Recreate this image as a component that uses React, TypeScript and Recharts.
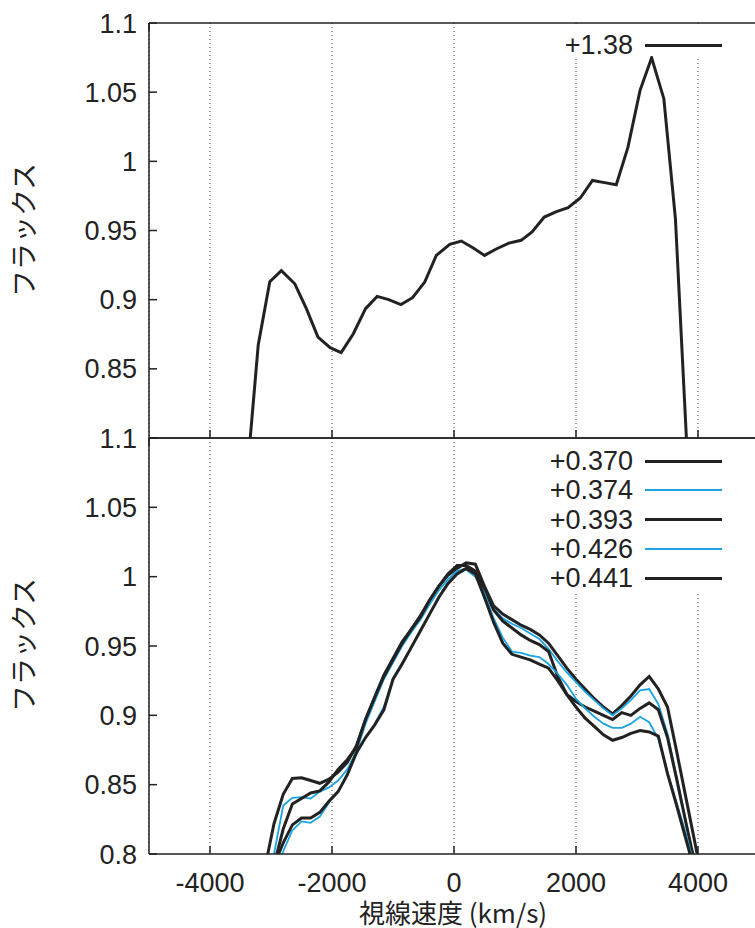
import React from 'react';
import { LineChart, Line, XAxis, YAxis, CartesianGrid } from 'recharts';

const velocityTicks = [-4000, -2000, 0, 2000, 4000];
const fluxTicks = [0.8, 0.85, 0.9, 0.95, 1, 1.05, 1.1];

// upper panel
const topLabel = '+1.38';
const topVelocity = [-3340, -3210, -3020, -2830, -2610, -2420, -2230, -2030, -1850, -1650, -1450, -1260, -1070, -870, -680, -480, -290, -70, 120, 310, 500, 700, 900, 1100, 1280, 1480, 1680, 1870, 2070, 2270, 2470, 2660, 2850, 3050, 3240, 3440, 3630, 3810];
const topFlux = [0.8, 0.867, 0.913, 0.921, 0.9115, 0.8935, 0.873, 0.8653, 0.8617, 0.8754, 0.8935, 0.9024, 0.9, 0.8964, 0.9014, 0.9127, 0.932, 0.94, 0.9424, 0.9376, 0.932, 0.9368, 0.9409, 0.9429, 0.9489, 0.9597, 0.9636, 0.9665, 0.9735, 0.9862, 0.9846, 0.9831, 1.0099, 1.0513, 1.0749, 1.0453, 0.9585, 0.8];

// lower panel
const bottomLabels = ['+0.370', '+0.374', '+0.393', '+0.426', '+0.441'];
const bottomVelocity = [-3100, -2950, -2800, -2650, -2500, -2350, -2200, -2050, -1900, -1750, -1600, -1450, -1300, -1150, -1000, -850, -700, -550, -400, -250, -100, 50, 200, 350, 500, 650, 800, 950, 1100, 1250, 1400, 1550, 1700, 1850, 2000, 2150, 2300, 2450, 2600, 2750, 2900, 3050, 3200, 3350, 3500, 3650, 3800, 3950, 4100];
const flux370 = [0.79, 0.822, 0.843, 0.8545, 0.855, 0.853, 0.851, 0.854, 0.859, 0.866, 0.878, 0.897, 0.913, 0.929, 0.941, 0.953, 0.962, 0.972, 0.983, 0.993, 1.001, 1.006, 1.010, 1.009, 0.993, 0.979, 0.973, 0.969, 0.965, 0.962, 0.958, 0.952, 0.943, 0.934, 0.926, 0.919, 0.912, 0.906, 0.901, 0.907, 0.914, 0.922, 0.928, 0.919, 0.906, 0.874, 0.841, 0.808, 0.775];
const flux374 = [0.77, 0.80, 0.835, 0.8405, 0.841, 0.840, 0.845, 0.848, 0.853, 0.861, 0.874, 0.894, 0.910, 0.926, 0.938, 0.950, 0.960, 0.969, 0.980, 0.990, 0.998, 1.004, 1.006, 1.003, 0.990, 0.977, 0.970, 0.966, 0.963, 0.959, 0.955, 0.948, 0.939, 0.931, 0.924, 0.917, 0.911, 0.905, 0.900, 0.905, 0.911, 0.918, 0.919, 0.908, 0.887, 0.856, 0.824, 0.790, 0.76];
const flux393 = [0.77, 0.792, 0.818, 0.836, 0.840, 0.844, 0.8455, 0.852, 0.861, 0.868, 0.877, 0.897, 0.913, 0.928, 0.940, 0.952, 0.962, 0.971, 0.983, 0.993, 1.002, 1.008, 1.008, 1.004, 0.990, 0.976, 0.968, 0.963, 0.958, 0.954, 0.951, 0.946, 0.928, 0.915, 0.910, 0.906, 0.903, 0.900, 0.897, 0.902, 0.900, 0.905, 0.909, 0.904, 0.884, 0.854, 0.823, 0.793, 0.76];
const flux426 = [0.75, 0.775, 0.802, 0.817, 0.8235, 0.8225, 0.827, 0.837, 0.845, 0.858, 0.872, 0.884, 0.894, 0.906, 0.927, 0.938, 0.949, 0.961, 0.973, 0.985, 0.996, 1.003, 1.005, 1.000, 0.988, 0.970, 0.956, 0.946, 0.945, 0.943, 0.942, 0.937, 0.930, 0.922, 0.912, 0.905, 0.899, 0.894, 0.891, 0.891, 0.894, 0.899, 0.895, 0.883, 0.859, 0.837, 0.815, 0.790, 0.765];
const flux441 = [0.76, 0.792, 0.808, 0.821, 0.826, 0.826, 0.830, 0.838, 0.845, 0.857, 0.873, 0.884, 0.893, 0.904, 0.926, 0.937, 0.949, 0.961, 0.973, 0.985, 0.995, 1.002, 1.006, 1.002, 0.985, 0.967, 0.952, 0.944, 0.942, 0.940, 0.937, 0.934, 0.925, 0.915, 0.906, 0.898, 0.892, 0.886, 0.882, 0.884, 0.887, 0.889, 0.888, 0.885, 0.858, 0.835, 0.811, 0.787, 0.76];

const BLACK = '#222';
const BLUE = '#1ba3e3';
const FONT = '"Liberation Sans", Arial, sans-serif';
const JP = '"Noto Sans CJK JP", sans-serif';

const bottomSeries = [
  { key: 'f370', values: flux370, color: BLACK, width: 3 },
  { key: 'f374', values: flux374, color: BLUE, width: 1.8 },
  { key: 'f393', values: flux393, color: BLACK, width: 3 },
  { key: 'f426', values: flux426, color: BLUE, width: 1.8 },
  { key: 'f441', values: flux441, color: BLACK, width: 3 },
];

const topData = topVelocity.map((v, i) => ({ v, flux: topFlux[i] }));
const bottomData = bottomVelocity.map((v, i) => {
  const row: any = { v };
  bottomSeries.forEach(s => { row[s.key] = s.values[i]; });
  return row;
});

const tickStyle = { fontSize: 27, fill: BLACK, fontFamily: FONT };
const axisLine = { stroke: BLACK, strokeWidth: 1.5 };

const fmtFlux = (hideBottom: boolean) => (t: number) => (hideBottom && t === 0.8 ? '' : String(t));

const Axes = ({ showX, hideBottomFlux, topH, bottomH }: any) => [
  <CartesianGrid key="g" horizontal={false} stroke="#444" strokeDasharray="1 3" strokeWidth={1} />,
  <XAxis key="xb" dataKey="v" type="number" domain={[-5000, 5000]} ticks={velocityTicks} allowDataOverflow
    interval={0} height={bottomH} axisLine={axisLine} tickLine={axisLine} tickSize={-8} tickMargin={27}
    tick={tickStyle} tickFormatter={showX ? (t: number) => String(t) : () => ''} />,
  <XAxis key="xt" xAxisId="t" orientation="top" type="number" domain={[-5000, 5000]} ticks={velocityTicks}
    interval={0} height={topH} axisLine={axisLine} tickLine={axisLine} tickSize={-8} tickFormatter={() => ''} />,
  <YAxis key="yl" type="number" domain={[0.8, 1.1]} ticks={fluxTicks} allowDataOverflow interval={0} width={149}
    axisLine={axisLine} tickLine={axisLine} tickSize={-8} tickMargin={20} tick={tickStyle}
    tickFormatter={fmtFlux(hideBottomFlux)} />,
  <YAxis key="yr" yAxisId="r" orientation="right" type="number" domain={[0.8, 1.1]} ticks={fluxTicks} interval={0}
    width={41} axisLine={axisLine} tickLine={axisLine} tickSize={-8} tickFormatter={() => ''} />,
];

const LegendRow = ({ label, color, width, y }: any) => (
  <div style={{ position: 'absolute', left: 0, top: y - 16, width: 755, height: 32 }}>
    <div style={{ position: 'absolute', right: 755 - 633, top: 0, lineHeight: '32px', fontSize: 27, fontFamily: FONT, color: BLACK }}>{label}</div>
    <div style={{ position: 'absolute', left: 645, width: 77, top: 16 - width / 2, height: width, background: color }} />
  </div>
);

const YTitle = ({ y }: any) => (
  <div style={{ position: 'absolute', left: 22, top: y, lineHeight: 1, transform: 'translate(-50%, -50%) rotate(-90deg)', whiteSpace: 'nowrap', fontSize: 27, fontFamily: JP, color: BLACK }}>フラックス</div>
);

export default function App() {
  return (
    <div style={{ position: 'absolute', left: 0, top: 0, width: 755, height: 928, overflow: 'hidden', background: '#fff' }}>
      <div style={{ position: 'absolute', left: 0, top: 0 }}>
        <LineChart width={800} height={448} data={topData} margin={{ top: 0, right: 0, left: 0, bottom: 0 }}>
          {Axes({ showX: false, hideBottomFlux: true, topH: 23, bottomH: 10 })}
          <Line type="linear" dataKey="flux" stroke={BLACK} strokeWidth={3} dot={false} isAnimationActive={false} />
        </LineChart>
      </div>
      <div style={{ position: 'absolute', left: 0, top: 400 }}>
        <LineChart width={800} height={528} data={bottomData} margin={{ top: 0, right: 0, left: 0, bottom: 0 }}>
          {Axes({ showX: true, hideBottomFlux: false, topH: 38, bottomH: 74 })}
          {bottomSeries.map(s => (
            <Line key={s.key} type="linear" dataKey={s.key} stroke={s.color} strokeWidth={s.width} dot={false} isAnimationActive={false} />
          ))}
        </LineChart>
      </div>
      {/* opaque key boxes */}
      <div style={{ position: 'absolute', left: 548, top: 24, width: 207, height: 32, background: '#fff' }} />
      <div style={{ position: 'absolute', left: 535, top: 440, width: 220, height: 152, background: '#fff' }} />
      <LegendRow label={topLabel} color={BLACK} width={3} y={45} />
      {bottomSeries.map((s, i) => (
        <LegendRow key={s.key} label={bottomLabels[i]} color={s.color} width={s.width} y={461 + i * 29.3} />
      ))}
      <YTitle y={230} />
      <YTitle y={645} />
      <div style={{ position: 'absolute', left: 453, top: 912, lineHeight: 1, transform: 'translate(-50%, -50%)', whiteSpace: 'nowrap', fontSize: 26, fontFamily: JP, color: BLACK }}>視線速度 (km/s)</div>
    </div>
  );
}
